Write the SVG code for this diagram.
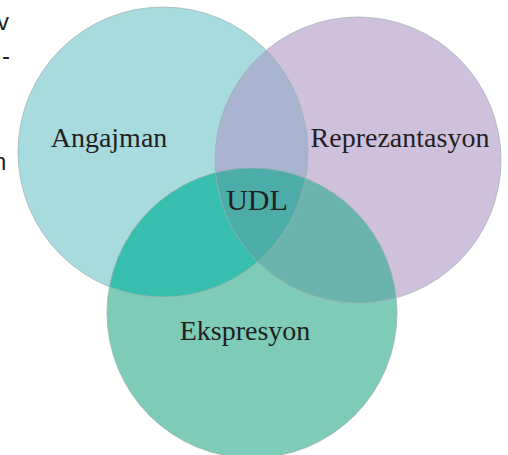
<svg xmlns="http://www.w3.org/2000/svg" width="508" height="455" viewBox="0 0 508 455">
<style>
.lbl{font-family:"Liberation Serif","DejaVu Serif",serif;font-size:28px;fill:#231F20;text-anchor:middle}
.frag{font-family:"Liberation Sans","DejaVu Sans",sans-serif;font-size:24px;fill:#231F20}
.ring{fill:none;stroke:#9fb0b2;stroke-width:0.9;stroke-opacity:0.8}
</style>
<defs>
<clipPath id="clipA"><circle cx="163" cy="152" r="145"/></clipPath>
<clipPath id="clipB"><circle cx="358" cy="160" r="143"/></clipPath>
</defs>
<rect width="508" height="455" fill="#ffffff"/>
<text class="frag" x="-3" y="30">v</text>
<text class="frag" x="2" y="64">-</text>
<text class="frag" x="-7" y="170">n</text>
<g id="angajman">
<circle cx="163" cy="152" r="145" fill="#A7DBDF"/>
</g>
<g id="reprezantasyon">
<circle cx="358" cy="160" r="143" fill="#CFC1DD"/>
</g>
<g id="ekspresyon">
<circle cx="252" cy="313" r="145" fill="#7ECBB8"/>
</g>
<g id="overlaps">
<circle cx="358" cy="160" r="143" fill="#A9B4D0" clip-path="url(#clipA)"/>
<circle cx="252" cy="313" r="145" fill="#37BEAE" clip-path="url(#clipA)"/>
<circle cx="252" cy="313" r="145" fill="#6BB3AE" clip-path="url(#clipB)"/>
<g clip-path="url(#clipA)">
<circle cx="252" cy="313" r="145" fill="#4CADA8" clip-path="url(#clipB)"/>
</g>
</g>
<g id="outlines">
<circle class="ring" cx="163" cy="152" r="145"/>
<circle class="ring" cx="358" cy="160" r="143"/>
<circle class="ring" cx="252" cy="313" r="145"/>
</g>
<g id="labels">
<text class="lbl" x="109" y="147">Angajman</text>
<text class="lbl" x="400" y="147">Reprezantasyon</text>
<text class="lbl" x="257" y="210" style="font-size:30px">UDL</text>
<text class="lbl" x="245" y="340">Ekspresyon</text>
</g>
</svg>
